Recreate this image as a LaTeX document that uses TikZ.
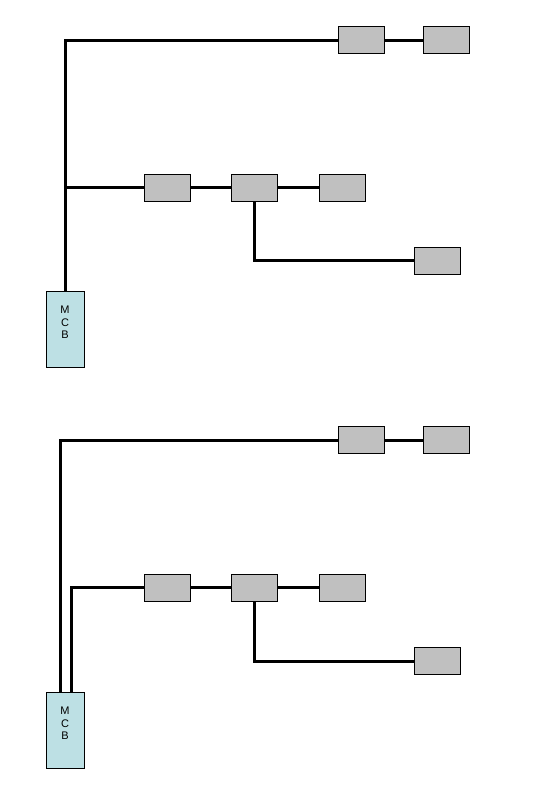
\documentclass[tikz,border=0pt]{standalone}
\usepackage{fontspec}
\setsansfont{Liberation Sans}
\definecolor{mcbblue}{RGB}{189,224,228}
\definecolor{loadgray}{RGB}{192,192,192}
\begin{document}
\begin{tikzpicture}[x=1pt,y=-1pt,
  wire/.style={line width=3pt},
  load/.style={draw,line width=0.9pt,fill=loadgray,minimum width=46pt,minimum height=27pt,inner sep=0pt},
  mcb/.style={draw,line width=0.9pt,fill=mcbblue,minimum width=38pt,minimum height=76pt,inner sep=0pt,
              align=center,font=\sffamily\fontsize{11}{12.5}\selectfont,anchor=north}]
 \useasboundingbox (0,0) rectangle (539,793);
 % single feed
 \begin{scope}
  \node[mcb] (mcb1) at (65,291) {M\\C\\B\\[1pt]};
  \node[load] (a1) at (361,40) {};
  \node[load] (b1) at (446,40) {};
  \node[load] (c1) at (167,187.5) {};
  \node[load] (d1) at (254,187.5) {};
  \node[load] (e1) at (342,187.5) {};
  \node[load] (f1) at (437,260.5) {};
  \draw[wire] (mcb1.north) |- (a1.west);
  \draw[wire] (a1.east) -- (b1.west);
  \draw[wire] (c1.west) -- (c1.west -| mcb1.north);
  \draw[wire] (c1.east) -- (d1.west);
  \draw[wire] (d1.east) -- (e1.west);
  \draw[wire] (d1.south) |- (f1.west);
 \end{scope}
 % two feeds
 \begin{scope}[yshift=-400pt]
  \node[mcb] (mcb2) at (65,292) {M\\C\\B\\[1pt]};
  \node[load] (a2) at (361,40) {};
  \node[load] (b2) at (446,40) {};
  \node[load] (c2) at (167,187.5) {};
  \node[load] (d2) at (254,187.5) {};
  \node[load] (e2) at (342,187.5) {};
  \node[load] (f2) at (437,261) {};
  \draw[wire] ([xshift=-5pt]mcb2.north) |- (a2.west);
  \draw[wire] ([xshift=6pt]mcb2.north) |- (c2.west);
  \draw[wire] (a2.east) -- (b2.west);
  \draw[wire] (c2.east) -- (d2.west);
  \draw[wire] (d2.east) -- (e2.west);
  \draw[wire] (d2.south) |- (f2.west);
 \end{scope}
\end{tikzpicture}
\end{document}
